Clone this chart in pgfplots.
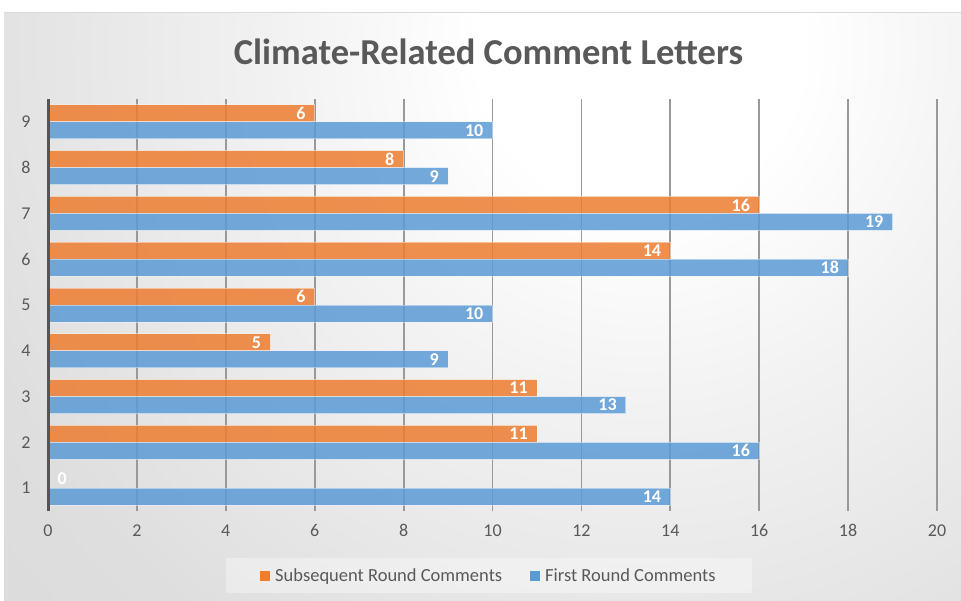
\documentclass[border=0pt]{standalone}
\usepackage{fontspec}
\setmainfont{Carlito}
\usepackage{pgfplots}
\pgfplotsset{compat=1.18}
\definecolor{txt}{HTML}{595959}
\definecolor{axc}{HTML}{555555}
\definecolor{orng}{HTML}{ED7D31}
\definecolor{blu}{HTML}{5B9BD5}
\definecolor{gridc}{HTML}{999999}
\definecolor{bgA}{HTML}{F2F2F2}
\definecolor{bgB}{HTML}{DEDEDE}
\definecolor{bgC}{HTML}{D3D3D3}
\definecolor{bgD}{HTML}{CACACA}
\pgfdeclareradialshading{bgshade}{\pgfpoint{0bp}{0bp}}{color(0bp)=(white); color(4bp)=(white); color(9bp)=(bgA); color(18bp)=(bgB); color(33bp)=(bgC); color(45bp)=(bgD); color(50bp)=(bgD)}
\begin{document}
\begin{tikzpicture}[x=1pt,y=1pt]
\path[use as bounding box] (0,0) rectangle (961,600);
\fill[white] (0,0) rectangle (961,600);
\begin{scope}
\clip (4,0) rectangle (961,587);
\shade[shading=bgshade] (-360,-450) rectangle (1640,1550);
\end{scope}
\draw[line width=1pt, color=gray!30] (4,587) -- (961,587);
\begin{axis}[
  at={(48pt,89pt)}, anchor=south west,
  scale only axis, width=889pt, height=412pt,
  clip=false,
  bar width=17pt,
  xmin=0, xmax=20, ymin=0.5, ymax=9.5,
  xtick={0,2,...,20}, ytick={1,...,9},
  major tick length=0pt,
  axis lines*=left,
  x axis line style={draw=none},
  y axis line style={draw=none},
  xmajorgrids, grid style={line width=1.8pt, color=gridc},
  ticklabel style={font=\fontsize{18}{21}\selectfont, text=txt},
  /pgf/number format/assume math mode=true,
  xticklabel style={yshift=-10pt},
  yticklabel style={xshift=-14pt},
  title={Climate-Related Comment Letters},
  title style={font=\fontsize{36.5}{42}\selectfont\bfseries, text=txt, at={(0.4955,1)}, anchor=center, yshift=41pt},
  legend columns=2,
  legend style={at={(0.496,-0.1566)}, anchor=center, draw=none, fill=white, fill opacity=0.35, text opacity=1,
    font=\fontsize{18.5}{21}\selectfont, text=txt, inner xsep=34pt, inner ysep=8pt,
    /tikz/every even column/.append style={column sep=26pt},
    /tikz/every odd column/.append style={column sep=3pt}},
  legend image code/.code={\fill[#1, draw=none, fill opacity=1] (0pt,-5pt) rectangle (10pt,5pt);},
]
\addplot[xbar, bar shift=8.5pt, fill=orng, fill opacity=0.85, draw=white, draw opacity=0.45, line width=0.8pt,
  nodes near coords,
  every node near coord/.style={font=\fontsize{18}{20}\selectfont\bfseries, text=white, text opacity=1, anchor=east, xshift=-5.5pt, yshift=8.5pt}]
  coordinates {(11,2) (11,3) (5,4) (6,5) (14,6) (16,7) (8,8) (6,9)};
\addlegendentry{Subsequent Round Comments}
\addplot[xbar, bar shift=-8.5pt, fill=blu, fill opacity=0.85, draw=white, draw opacity=0.45, line width=0.8pt,
  nodes near coords,
  every node near coord/.style={font=\fontsize{18}{20}\selectfont\bfseries, text=white, text opacity=1, anchor=east, xshift=-5.5pt, yshift=-8.5pt}]
  coordinates {(14,1) (16,2) (13,3) (9,4) (10,5) (18,6) (19,7) (9,8) (10,9)};
\addlegendentry{First Round Comments}
\addplot[xbar, bar shift=8.5pt, draw=none, fill=none, forget plot,
  nodes near coords,
  every node near coord/.style={font=\fontsize{18}{20}\selectfont\bfseries, text=white, text opacity=1, anchor=west, xshift=6pt, yshift=9pt}]
  coordinates {(0,1)};
\draw[line width=3pt, color=axc] (axis cs:0,0.5) -- (axis cs:0,9.5);
\end{axis}
\end{tikzpicture}
\end{document}
